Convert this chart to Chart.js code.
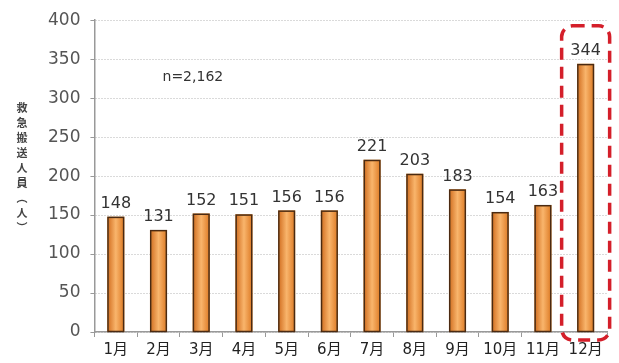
<!DOCTYPE html>
<html>
<head>
<meta charset="utf-8">
<script src="https://cdn.jsdelivr.net/npm/chart.js@4/dist/chart.umd.min.js"></script>
<style>
  html, body { margin: 0; padding: 0; background: #fff; }
  #wrap { width: 619px; height: 363px; position: relative; }
</style>
</head>
<body>
<div id="wrap"><canvas id="chart"></canvas></div>
<script>
const months = ["1月", "2月", "3月", "4月", "5月", "6月", "7月", "8月", "9月", "10月", "11月", "12月"];
const patients = [148, 131, 152, 151, 156, 156, 221, 203, 183, 154, 163, 344];
const yTicks = [0, 50, 100, 150, 200, 250, 300, 350, 400];
const yTitle = ["救", "急", "搬", "送", "人", "員", "︵", "人", "︶"];
const noteText = "n=2,162";
const noteValue = 327;
const highlightIndex = 11;

const numFont = "'DejaVu Sans', 'Noto Sans CJK JP', sans-serif";

// gradient shading, value labels, axis title, note and the red dashed box
const decorPlugin = {
    id: 'decor',
    afterDatasetsDraw(chart) {
        const ctx = chart.ctx;
        const meta = chart.getDatasetMeta(0);
        const ys = chart.scales.y, xs = chart.scales.x;
        ctx.save();
        meta.data.forEach((bar, i) => {
            const w = bar.width, left = bar.x - w / 2;
            const g = ctx.createLinearGradient(left, 0, left + w, 0);
            g.addColorStop(0, '#cf6a1c');
            g.addColorStop(0.5, '#f9b56c');
            g.addColorStop(1, '#dc7822');
            ctx.fillStyle = g;
            ctx.fillRect(left + 1.5, bar.y + 1.5, w - 3, bar.base - bar.y - 1.5);
            ctx.strokeStyle = '#4a2a12';
            ctx.lineWidth = 1.5;
            ctx.strokeRect(left + 0.75, bar.y + 0.75, w - 1.5, bar.base - bar.y - 0.75);
            // value label
            ctx.fillStyle = '#333';
            ctx.font = "16px " + numFont;
            ctx.textAlign = 'center';
            ctx.textBaseline = 'bottom';
            ctx.fillText(String(patients[i]), bar.x, bar.y - 5);
        });

        // y axis title, stacked vertically
        ctx.fillStyle = '#444';
        ctx.font = "bold 11px 'Noto Sans CJK JP', sans-serif";
        ctx.textAlign = 'center';
        ctx.textBaseline = 'middle';
        yTitle.forEach((ch, k) => ctx.fillText(ch, 22, 108 + k * 15));

        // note
        ctx.fillStyle = '#333';
        ctx.font = "14px " + numFont;
        ctx.textAlign = 'left';
        ctx.fillText(noteText, xs.getPixelForValue(1) + 4, ys.getPixelForValue(noteValue));

        // red dashed rounded box around the highlighted month
        const hb = meta.data[highlightIndex];
        const bx = hb.x - 24, bw = 48;
        const by = ys.getPixelForValue(patients[highlightIndex]) - 38;
        const bh = ys.getPixelForValue(0) + 8 - by;
        ctx.strokeStyle = '#d41f2a';
        ctx.lineWidth = 3.5;
        ctx.setLineDash([12, 7]);
        ctx.beginPath();
        ctx.roundRect(bx, by, bw, bh, 11);
        ctx.stroke();
        ctx.restore();
    }
};

new Chart(document.getElementById('chart'), {
    type: 'bar',
    data: {
        labels: months,
        datasets: [{
            data: patients,
            backgroundColor: '#f09a40',
            borderWidth: 0,
            barPercentage: 0.4,
            categoryPercentage: 1
        }]
    },
    options: {
        responsive: true,
        maintainAspectRatio: false,
        animation: false,
        devicePixelRatio: 1,
        layout: { padding: { left: 38, right: 12, top: 10, bottom: 0 } },
        plugins: { legend: { display: false }, tooltip: { enabled: false } },
        scales: {
            x: {
                grid: { display: true, drawOnChartArea: false, offset: true, color: '#999', tickLength: 5 },
                border: { color: '#999', width: 1.5 },
                ticks: { color: '#222', font: { size: 15, family: numFont }, padding: 4, maxRotation: 0, autoSkip: false }
            },
            y: {
                min: 0,
                max: 400,
                afterBuildTicks: (axis) => { axis.ticks = yTicks.map(v => ({ value: v })); },
                grid: { color: '#b5b5b5', lineWidth: 1, tickLength: 4, tickColor: '#999' },
                border: { color: '#999', width: 1.5, dash: [1, 2] },
                ticks: { color: '#555', font: { size: 17, family: numFont }, padding: 10 }
            }
        }
    },
    plugins: [decorPlugin]
});
</script>
</body>
</html>
